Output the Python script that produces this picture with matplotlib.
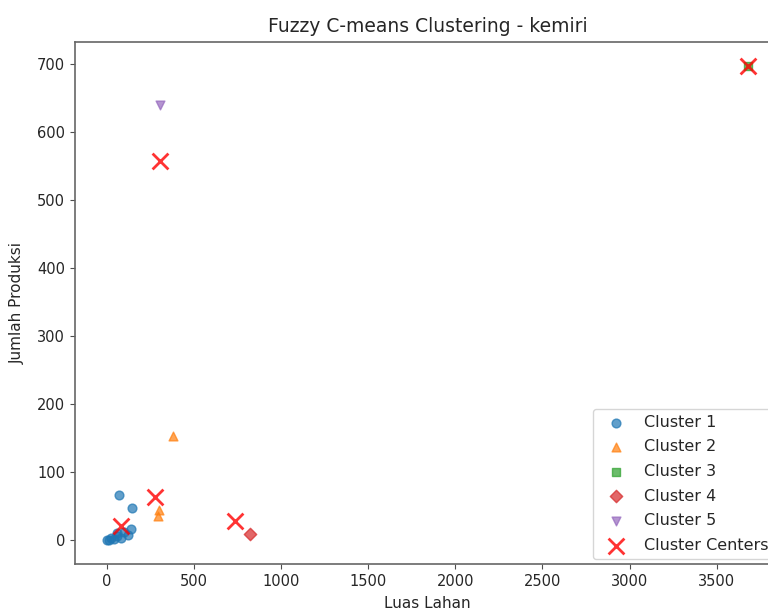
import matplotlib
matplotlib.use("Agg")
import matplotlib.pyplot as plt

# Data (Luas Lahan, Jumlah Produksi)
c1_x = [0, 10, 25, 40, 60, 80, 100, 120, 140, 55, 71, 145]
c1_y = [0, 1, 3, 2, 6, 4, 12, 8, 16, 10, 66, 47]
c2_x = [378, 290, 296]
c2_y = [154, 36, 44]
c3_x = [3680]
c3_y = [698]
c4_x = [823]
c4_y = [9]
c5_x = [305]
c5_y = [640]
center_x = [78, 276, 3680, 737, 303]
center_y = [21, 64, 698, 28, 558]

cluster_labels = ["Cluster 1", "Cluster 2", "Cluster 3", "Cluster 4", "Cluster 5"]
markers = ["o", "^", "s", "D", "v"]
colors = ["tab:blue", "tab:orange", "tab:green", "tab:red", "tab:purple"]

plt.rcParams['font.family'] = ['DejaVu Sans']
fig = plt.figure(figsize=(7.68, 6.12), dpi=100)
ax = fig.add_axes([75/768, 1 - 564/612, (780 - 75)/768, (564 - 42)/612])

xs = [c1_x, c2_x, c3_x, c4_x, c5_x]
ys = [c1_y, c2_y, c3_y, c4_y, c5_y]
for x, y, lab, m, c in zip(xs, ys, cluster_labels, markers, colors):
    ax.scatter(x, y, marker=m, color=c, alpha=0.7, s=40, label=lab)

ax.scatter(center_x, center_y, marker="x", color="red", s=130, linewidths=2,
           alpha=0.8, label="Cluster Centers")

for sp in ax.spines.values():
    sp.set_color("0.4")
    sp.set_linewidth(1.2)
ax.tick_params(colors="0.3", labelcolor="0.15")

ax.set_title("Fuzzy C-means Clustering - kemiri", fontsize=13.5, color="0.15", pad=7)
ax.set_xlabel("Luas Lahan", fontsize=11, color="0.15", labelpad=5)
ax.set_ylabel("Jumlah Produksi", fontsize=11, color="0.15", labelpad=9)
ax.tick_params(labelsize=10.5)
leg = ax.legend(loc="lower right", fontsize=11.5, borderaxespad=0.3,
                labelspacing=0.6)
for t in leg.get_texts():
    t.set_color("0.15")

fig.savefig("out.png", dpi=100)
